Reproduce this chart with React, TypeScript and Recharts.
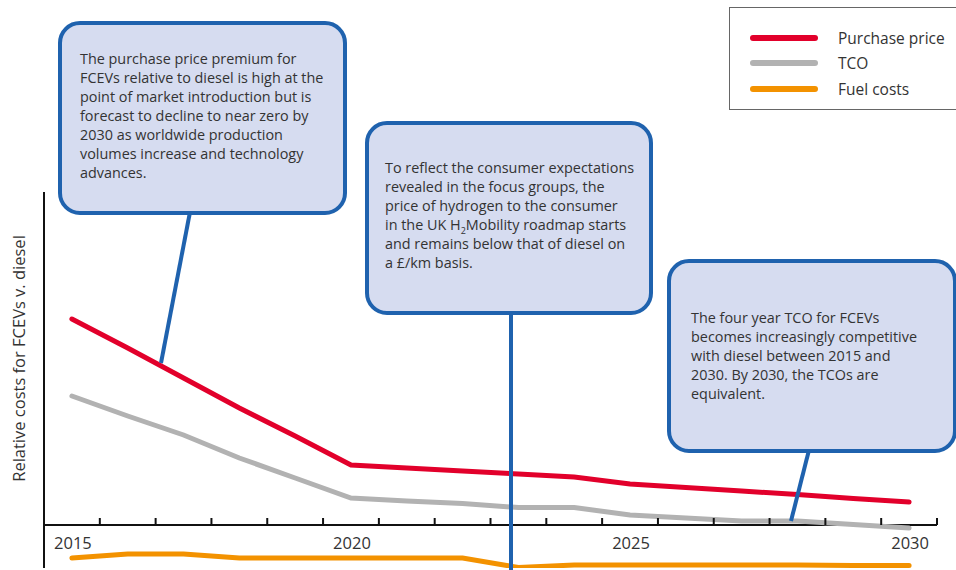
import { LineChart, Line, XAxis, YAxis, ReferenceLine, Legend } from 'recharts';

const years = ['2015', '2016', '2017', '2018', '2019', '2020', '2021', '2022', '2023', '2024', '2025', '2026', '2027', '2028', '2029', '2030'];
const purchasePrice = [2.06, 1.77, 1.47, 1.17, 0.89, 0.6, 0.57, 0.54, 0.51, 0.48, 0.41, 0.375, 0.34, 0.305, 0.265, 0.23];
const tco = [1.29, 1.09, 0.9, 0.67, 0.47, 0.27, 0.24, 0.215, 0.175, 0.175, 0.1, 0.07, 0.04, 0.04, 0.005, -0.03];
const fuelCosts = [-0.33, -0.29, -0.29, -0.33, -0.33, -0.33, -0.33, -0.33, -0.425, -0.4, -0.4, -0.4, -0.4, -0.4, -0.405, -0.405];
const tickLabels = ['2015', '2020', '2025', '2030'];
const seriesNames = ['Purchase price', 'TCO', 'Fuel costs'];

const data = years.map((year, i) => ({
  year,
  purchase: purchasePrice[i],
  tco: tco[i],
  fuel: fuelCosts[i],
}));

const W = 956;
const H = 570;
const AXIS_W = 1;
const margin = { top: 192, right: 19, bottom: 1, left: 44 - AXIS_W };
const Y_MIN = -0.43;
const Y_MAX = 3.33;
const plotW = W - margin.left - AXIS_W - margin.right;
const plotH = H - margin.top - margin.bottom - AXIS_W;
const BAND = plotW / years.length;
const ZERO_Y = margin.top + (plotH * Y_MAX) / (Y_MAX - Y_MIN);

const FONT = '"Open Sans", sans-serif';
const TEXT = '#333';
const BLUE = '#1f62ae';

const YearTick = (props: any) => {
  const { x, payload } = props;
  const edge = x + BAND / 2;
  return (
    <g>
      <line x1={edge} x2={edge} y1={ZERO_Y} y2={ZERO_Y - 7} stroke="#111" strokeWidth={2} />
      {tickLabels.includes(payload.value) && (
        <text x={x + 1} y={ZERO_Y + 24} textAnchor="middle" fontSize={16.5} fill={TEXT} fontFamily={FONT}>
          {payload.value}
        </text>
      )}
    </g>
  );
};

const YTitle = () => (
  <text
    transform={`translate(24.5, ${(margin.top + ZERO_Y) / 2}) rotate(-90)`}
    textAnchor="middle"
    fontSize={16.5}
    fill={TEXT}
    fontFamily={FONT}
  >
    Relative costs for FCEVs v. diesel
  </text>
);

const LegendBox = ({ payload }: any) => {
  const items = [...(payload || [])].sort(
    (a: any, b: any) => seriesNames.indexOf(a.value) - seriesNames.indexOf(b.value)
  );
  return (
    <div
      style={{
        border: '1px solid #666',
        width: 240,
        height: 103,
        boxSizing: 'border-box',
        background: '#fff',
        paddingTop: 17,
        fontFamily: FONT,
      }}
    >
      {items.map((p: any) => (
        <div key={p.value} style={{ display: 'flex', alignItems: 'center', height: 25.5 }}>
          <span style={{ display: 'inline-block', width: 68, height: 6, borderRadius: 3, background: p.color, marginLeft: 20 }} />
          <span style={{ marginLeft: 20, fontSize: 15.5, color: TEXT }}>{p.value}</span>
        </div>
      ))}
    </div>
  );
};

const boxStyle = (left: number, top: number, width: number, padLeft: number, padTop: number) => ({
  position: 'absolute' as const,
  left,
  top,
  width,
  height: 194,
  boxSizing: 'border-box' as const,
  border: `4px solid ${BLUE}`,
  borderRadius: 22,
  background: '#d6dcf0',
  color: TEXT,
  fontFamily: FONT,
  fontSize: 14.4,
  lineHeight: '19px',
  paddingLeft: padLeft,
  paddingTop: padTop,
  whiteSpace: 'nowrap' as const,
});

const App = () => {
  return (
    <div style={{ position: 'absolute', left: 0, top: 0, width: W, height: H, overflow: 'hidden', background: '#fff' }}>
      <LineChart width={W} height={H} data={data} margin={margin}>
        <XAxis
          dataKey="year"
          height={AXIS_W}
          axisLine={false}
          tickLine={false}
          tickSize={0}
          interval={0}
          padding={{ left: BAND / 2, right: BAND / 2 }}
          tick={<YearTick />}
        />
        <YAxis
          type="number"
          width={AXIS_W}
          domain={[Y_MIN, Y_MAX]}
          allowDataOverflow
          tick={false}
          tickLine={false}
          axisLine={{ stroke: '#111', strokeWidth: 2 }}
          label={<YTitle />}
        />
        <ReferenceLine y={0} stroke="#111" strokeWidth={2} />
        <Line dataKey="purchase" name="Purchase price" stroke="#e2002b" strokeWidth={5} dot={false} strokeLinecap="round" isAnimationActive={false} />
        <Line dataKey="tco" name="TCO" stroke="#b2b2b2" strokeWidth={5} dot={false} strokeLinecap="round" isAnimationActive={false} />
        <Line dataKey="fuel" name="Fuel costs" stroke="#f39200" strokeWidth={5} dot={false} strokeLinecap="round" isAnimationActive={false} />
        <Legend
          layout="vertical"
          align="center"
          verticalAlign="middle"
          content={<LegendBox />}
          wrapperStyle={{ position: 'absolute', left: 729, top: 7, width: 240, height: 103, margin: 0 }}
        />
      </LineChart>

      {/* callout pointers */}
      <svg width={W} height={H} style={{ position: 'absolute', left: 0, top: 0, pointerEvents: 'none' }}>
        <line x1={190} y1={212} x2={161} y2={363} stroke={BLUE} strokeWidth={4} />
        <line x1={511} y1={312} x2={511} y2={570} stroke={BLUE} strokeWidth={4} />
        <line x1={809} y1={450} x2={791} y2={521} stroke={BLUE} strokeWidth={4} />
      </svg>

      <div style={boxStyle(58, 21, 289, 18, 24)}>
        The purchase price premium for<br />
        FCEVs relative to diesel is high at the<br />
        point of market introduction but is<br />
        forecast to decline to near zero by<br />
        2030 as worldwide production<br />
        volumes increase and technology<br />
        advances.
      </div>
      <div style={boxStyle(365, 121, 288, 16, 33)}>
        To reflect the consumer expectations<br />
        revealed in the focus groups, the<br />
        price of hydrogen to the consumer<br />
        in the UK H<sub style={{ fontSize: 9, lineHeight: 0 }}>2</sub>Mobility roadmap starts<br />
        and remains below that of diesel on<br />
        a £/km basis.
      </div>
      <div style={boxStyle(667, 259, 290, 20, 45)}>
        The four year TCO for FCEVs<br />
        becomes increasingly competitive<br />
        with diesel between 2015 and<br />
        2030. By 2030, the TCOs are<br />
        equivalent.
      </div>
    </div>
  );
};

export default App;
